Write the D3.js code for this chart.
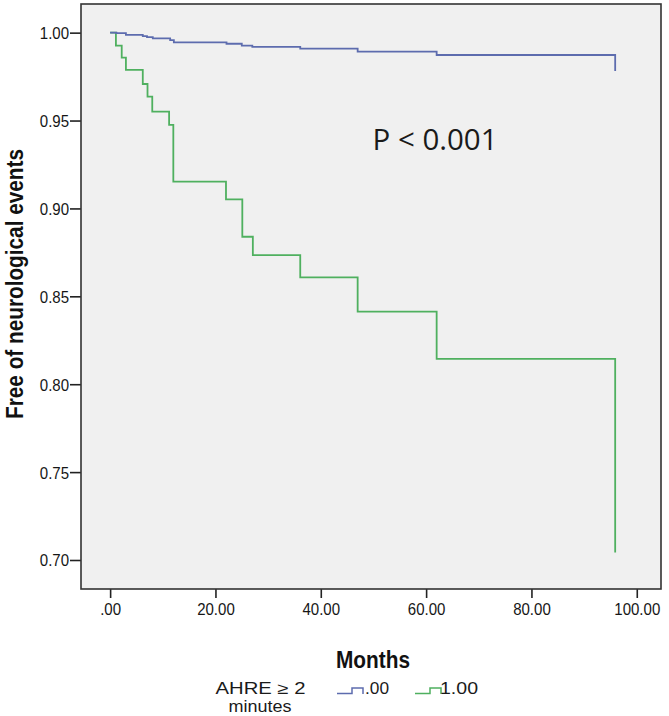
<!DOCTYPE html>
<html>
<head>
<meta charset="utf-8">
<script src="https://cdn.jsdelivr.net/npm/d3@7"></script>
<style>
  html, body { margin: 0; padding: 0; background: #ffffff; }
  svg { display: block; }
</style>
</head>
<body>
<svg id="chart" width="669" height="716"></svg>
<script>
// ---- Data ----
const groupLabels = [".00", "1.00"];
const blueTimes = [0, 1.2, 3.0, 6.2, 7.0, 8.1, 11.4, 12.1, 22.1, 25.0, 27.0, 36.1, 47.0, 62.0, 95.9];
const blueSurv  = [1, 0.9997, 0.9987, 0.9980, 0.9974, 0.9968, 0.9958, 0.9945, 0.9937, 0.9926, 0.9919, 0.9909, 0.9892, 0.9873, 0.9782];
const greenTimes = [0, 1.1, 2.2, 3.0, 6.2, 7.1, 8.0, 11.2, 12.0, 22.0, 25.1, 27.1, 36.1, 47.0, 62.0, 95.9];
const greenSurv  = [1, 0.9926, 0.9858, 0.9788, 0.9708, 0.9636, 0.9551, 0.9475, 0.9152, 0.9052, 0.8839, 0.8734, 0.8608, 0.8413, 0.8144, 0.7043];
const xTicks = [0, 20, 40, 60, 80, 100];
const yTicks = [0.70, 0.75, 0.80, 0.85, 0.90, 0.95, 1.00];

const svg = d3.select("#chart");
const frame = { left: 81, top: 4, right: 661, bottom: 589 };

const x = d3.scaleLinear().domain([-5.53, 104.6]).range([frame.left, frame.right]);
const y = d3.scaleLinear().domain([0.6835, 1.0163]).range([frame.bottom, frame.top]);

// plot background
svg.append("rect")
  .attr("x", frame.left).attr("y", frame.top)
  .attr("width", frame.right - frame.left).attr("height", frame.bottom - frame.top)
  .attr("fill", "#f0f0f0");

// axes
const xAxis = d3.axisBottom(x).tickValues(xTicks).tickSize(9).tickPadding(4)
  .tickFormat(d => d === 0 ? ".00" : d3.format(".2f")(d));
const gx = svg.append("g").attr("transform", `translate(0,${frame.bottom})`).call(xAxis);
const yAxis = d3.axisLeft(y).tickValues(yTicks).tickSize(11).tickPadding(1)
  .tickFormat(d3.format(".2f"));
const gy = svg.append("g").attr("transform", `translate(${frame.left},0)`).call(yAxis);

[gx, gy].forEach(g => {
  g.select(".domain").remove();
  g.selectAll(".tick line").attr("stroke", "#222").attr("stroke-width", 1.6);
  g.selectAll(".tick text")
    .attr("font-family", "Liberation Sans, Arial, sans-serif")
    .attr("font-size", 16.5)
    .attr("fill", "#161616");
});
gx.selectAll(".tick text").attr("dy", "0.8em");
gy.selectAll(".tick text").attr("dy", "0.36em");

// narrower glyphs, as in the reference
[gx, gy].forEach(g => g.selectAll(".tick text").each(function() {
  const w = this.getComputedTextLength();
  d3.select(this).attr("textLength", w * 0.91).attr("lengthAdjust", "spacingAndGlyphs");
}));

// frame
svg.append("rect")
  .attr("x", frame.left).attr("y", frame.top)
  .attr("width", frame.right - frame.left).attr("height", frame.bottom - frame.top)
  .attr("fill", "none").attr("stroke", "#333").attr("stroke-width", 1.6);

// curves
const line = d3.line().x(d => x(d[0])).y(d => y(d[1])).curve(d3.curveStepAfter);
const blueData = blueTimes.map((t, i) => [t, blueSurv[i]]);
const greenData = greenTimes.map((t, i) => [t, greenSurv[i]]);
const colors = ["#5d6cae", "#4fb05f"];

svg.append("path").datum(greenData).attr("d", line)
  .attr("fill", "none").attr("stroke", colors[1]).attr("stroke-width", 1.8);
svg.append("path").datum(blueData).attr("d", line)
  .attr("fill", "none").attr("stroke", colors[0]).attr("stroke-width", 1.8);

// annotation
svg.append("text")
  .attr("x", 372.5).attr("y", 150)
  .attr("font-family", "Open Sans, sans-serif")
  .attr("font-size", 30)
  .attr("fill", "#1a1a1a")
  .attr("textLength", 125).attr("lengthAdjust", "spacingAndGlyphs")
  .text("P < 0.001");

// axis titles
svg.append("text")
  .attr("x", 373).attr("y", 668)
  .attr("text-anchor", "middle")
  .attr("font-family", "Liberation Sans, Arial, sans-serif")
  .attr("font-weight", "bold").attr("font-size", 24)
  .attr("fill", "#111")
  .attr("textLength", 74).attr("lengthAdjust", "spacingAndGlyphs")
  .text("Months");

svg.append("text")
  .attr("transform", "translate(23,284) rotate(-90)")
  .attr("text-anchor", "middle")
  .attr("font-family", "Liberation Sans, Arial, sans-serif")
  .attr("font-weight", "bold").attr("font-size", 24)
  .attr("fill", "#111")
  .attr("textLength", 270).attr("lengthAdjust", "spacingAndGlyphs")
  .text("Free of neurological events");

// legend
const legFont = "Liberation Sans, Arial, sans-serif";
svg.append("text").attr("x", 260.5).attr("y", 693.5).attr("text-anchor", "middle")
  .attr("font-family", legFont).attr("font-size", 16).attr("fill", "#1a1a1a")
  .attr("textLength", 90).attr("lengthAdjust", "spacingAndGlyphs")
  .text("AHRE ≥ 2");
svg.append("text").attr("x", 260).attr("y", 712).attr("text-anchor", "middle")
  .attr("font-family", legFont).attr("font-size", 16).attr("fill", "#1a1a1a")
  .attr("textLength", 63).attr("lengthAdjust", "spacingAndGlyphs")
  .text("minutes");

const legendItems = [
  { x0: 337, label: groupLabels[0], tx: 365, tw: 24, color: colors[0] },
  { x0: 415, label: groupLabels[1], tx: 440, tw: 38, color: colors[1] }
];
legendItems.forEach(it => {
  svg.append("path")
    .attr("d", `M${it.x0},693.5 H${it.x0 + 15} V688 H${it.x0 + 26} V694`)
    .attr("fill", "none").attr("stroke", it.color).attr("stroke-width", 1.5);
  svg.append("text").attr("x", it.tx).attr("y", 693.5)
    .attr("font-family", legFont).attr("font-size", 16).attr("fill", "#1a1a1a")
    .attr("textLength", it.tw).attr("lengthAdjust", "spacingAndGlyphs")
    .text(it.label);
});
</script>
</body>
</html>
